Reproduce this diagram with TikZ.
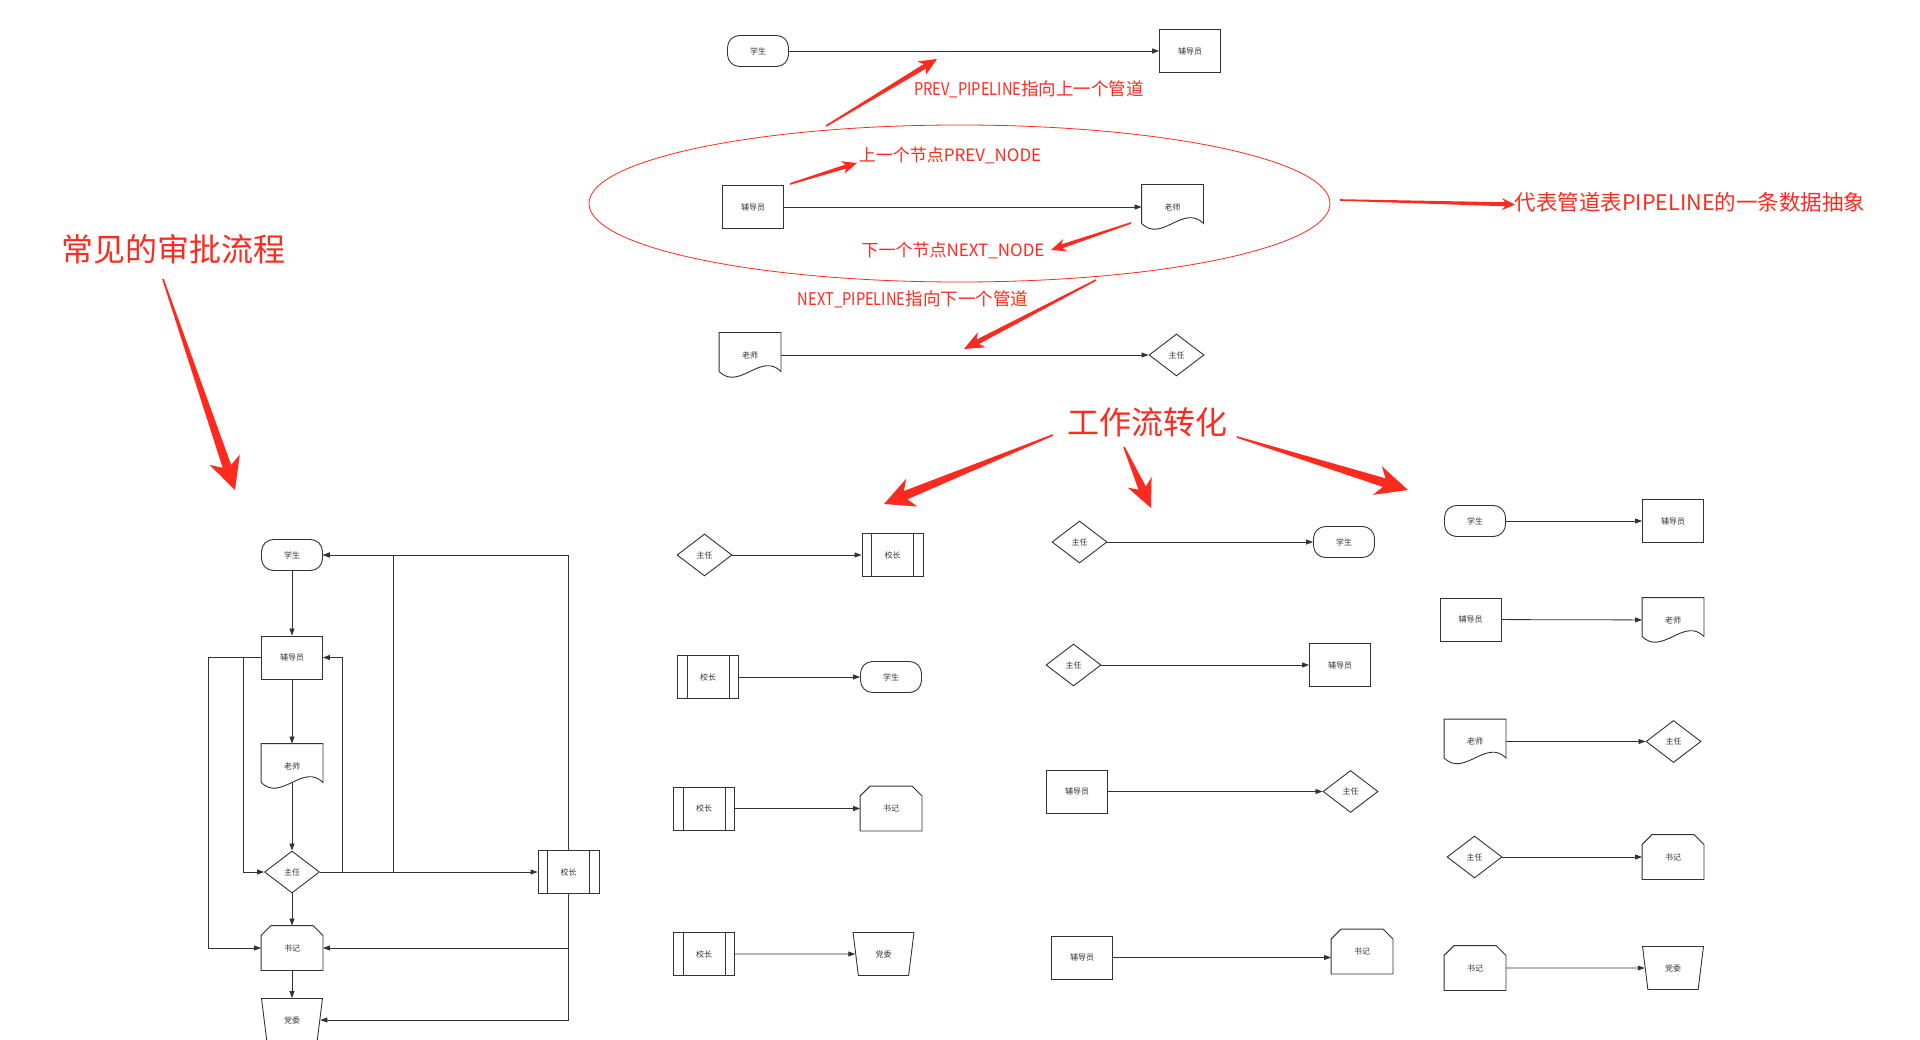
\documentclass[tikz,border=0pt]{standalone}
\usepackage{fontspec}
\setmainfont{Noto Sans CJK SC}
\newfontfamily\narrowlatin{Noto Sans CJK SC}[FakeStretch=0.84]
\usepackage{xcolor}
\usepackage{tikz}
\usetikzlibrary{arrows.meta,calc,shapes.geometric}
\definecolor{lineGray}{HTML}{333333}
\definecolor{noteRed}{HTML}{FF2A1F}

\newcommand{\redarrow}[5]{%
  \path ($(#2)!#3!(#1)$) coordinate (rbarb) ($(#2)!0.78*#3!(#1)$) coordinate (rneck);
  \fill[noteRed] ($(#1)!0.8pt!90:(#2)$) -- ($(rneck)!#5!90:(#2)$) -- ($(rbarb)!#4!90:(#2)$) -- (#2) -- ($(rbarb)!#4!-90:(#2)$) -- ($(rneck)!#5!-90:(#2)$) -- ($(#1)!0.8pt!-90:(#2)$) -- cycle;}

\begin{document}
\begin{tikzpicture}[x=1pt, y=-1pt,
  box/.style={draw=lineGray, line width=0.9pt, inner sep=0pt, text=lineGray, font=\fontsize{8}{9}\selectfont},
  term/.style={box, rounded corners=12pt, minimum width=61pt, minimum height=31pt},
  proc/.style={box, minimum width=61pt, minimum height=43pt},
  decide/.style={box, diamond, aspect=1.3, minimum width=55pt, minimum height=42pt},
  predef/.style={proc, append after command={\pgfextra{\draw[lineGray, line width=0.9pt] ([xshift=10pt]\tikzlastnode.north west) -- ([xshift=10pt]\tikzlastnode.south west) ([xshift=-10pt]\tikzlastnode.north east) -- ([xshift=-10pt]\tikzlastnode.south east);}}},
  docbox/.style={box, draw=none, minimum width=61pt, minimum height=44pt, append after command={\pgfextra{\draw[lineGray, line width=0.9pt] ([yshift=6pt]\tikzlastnode.south west) -- (\tikzlastnode.north west) -- (\tikzlastnode.north east) -- ([yshift=6pt]\tikzlastnode.south east) .. controls +(-20,-20) and +(20,20) .. ([yshift=6pt]\tikzlastnode.south west);}}},
  chamf/.style={box, draw=none, minimum width=61pt, minimum height=44pt, append after command={\pgfextra{\draw[lineGray, line width=0.9pt] (\tikzlastnode.south west) -- ([yshift=-10pt]\tikzlastnode.north west) -- ([xshift=10pt]\tikzlastnode.north west) -- ([xshift=-10pt]\tikzlastnode.north east) -- ([yshift=-10pt]\tikzlastnode.north east) -- (\tikzlastnode.south east) -- cycle;}}},
  manual/.style={box, trapezium, shape border rotate=180, trapezium stretches=true, trapezium left angle=77, trapezium right angle=77, minimum width=61pt, minimum height=43pt},
  conn/.style={draw=lineGray, line width=0.8pt, -{Triangle[length=7pt, width=5pt]}},
  note/.style={text=noteRed, inner sep=0pt}]
\fill[white] (0,0) rectangle (1920,1040);
\useasboundingbox (0,0) rectangle (1920,1040);

\node[term] (s0) at (758,51) {学生};
\node[proc] (f0) at (1190,51) {辅导员};
\node[proc] (f2) at (753,207) {辅导员};
\node[docbox] (t2) at (1172.5,207) {老师};
\node[docbox] (t3) at (750,355) {老师};
\node[decide] (z3) at (1176.5,355) {主任};
\draw[conn] (s0) -- (f0); \draw[conn] (f2) -- (t2); \draw[conn] (t3) -- (z3);
\node[draw=noteRed, line width=0.8pt, ellipse, inner sep=0pt, minimum width=741pt, minimum height=157pt] (pipe) at (959.5,203.5) {};

\node[note, font=\fontsize{17.5}{20}\selectfont] (prevpipe) at (1029,89) {{\narrowlatin PREV\_PIPELINE}指向上一个管道};
\node[note, font=\fontsize{17}{20}\selectfont] (prevnode) at (950,155.5) {上一个节点PREV\_NODE};
\node[note, font=\fontsize{17}{20}\selectfont] (nextnode) at (953,251) {下一个节点NEXT\_NODE};
\node[note, font=\fontsize{17.5}{20}\selectfont] (nextpipe) at (913,299) {{\narrowlatin NEXT\_PIPELINE}指向下一个管道};
\node[note, font=\fontsize{21.5}{24}\selectfont] (pipetext) at (1690,202) {代表管道表PIPELINE的一条数据抽象};
\node[note, font=\fontsize{32}{36}\selectfont] (common) at (173,249) {常见的审批流程};
\node[note, font=\fontsize{32}{36}\selectfont] (convert) at (1147,422) {工作流转化};

\coordinate (prevFrom) at (826,126); \coordinate (prevTo) at (937,59);
\coordinate (upFrom) at (790,184); \coordinate (upTo) at (857,163);
\coordinate (downFrom) at (1131,223); \coordinate (downTo) at (1051,250);
\coordinate (nextFrom) at (1096,280); \coordinate (nextTo) at (964,349);
\coordinate (pipeFrom) at (1340,200); \coordinate (pipeTo) at (1515,204.5);
\coordinate (commonFrom) at (163,279); \coordinate (commonTo) at (235,490);
\coordinate (leftFrom) at (1053,435); \coordinate (leftTo) at (884,504);
\coordinate (midFrom) at (1124,447); \coordinate (midTo) at (1151,508);
\coordinate (rightFrom) at (1237,437); \coordinate (rightTo) at (1408,490);
\redarrow{prevFrom}{prevTo}{18pt}{8pt}{2.5pt}
\redarrow{upFrom}{upTo}{15pt}{6.5pt}{2pt}
\redarrow{downFrom}{downTo}{15pt}{6.5pt}{2pt}
\redarrow{nextFrom}{nextTo}{20pt}{8.5pt}{2.5pt}
\redarrow{pipeFrom}{pipeTo}{13pt}{6pt}{2pt}
\redarrow{commonFrom}{commonTo}{32pt}{16pt}{4.5pt}
\redarrow{leftFrom}{leftTo}{30pt}{15pt}{4.5pt}
\redarrow{midFrom}{midTo}{28pt}{13pt}{4pt}
\redarrow{rightFrom}{rightTo}{32pt}{15pt}{4.5pt}

\node[term] (s1) at (292,555) {学生};
\node[proc] (f1) at (292,657.5) {辅导员};
\node[docbox] (t1) at (292,766) {老师};
\node[decide] (z1) at (292,872) {主任};
\node[chamf] (j1) at (292,948) {书记};
\node[manual] (d1) at (292,1020) {党委};
\node[predef] (x1) at (568.5,872) {校长};
\draw[conn] (s1) -- (f1); \draw[conn] (f1) -- (t1); \draw[conn] ([yshift=6pt]t1.south) -- (z1);
\draw[conn] (z1) -- (j1); \draw[conn] (j1) -- (d1); \draw[conn] (z1) -- (x1);
\draw[conn] (z1.east) -- ++(22,0) |- (f1.east);
\draw[conn] (z1.east) -- ++(73,0) |- (s1.east);
\draw[conn] (x1.north) |- (s1.east);
\draw[conn] (x1.south) |- (j1.east);
\draw[conn] (x1.south) |- (d1);
\draw[conn] (f1.west) -- ++(-18,0) |- (z1.west);
\draw[conn] (f1.west) -- ++(-53,0) |- (j1.west);

\node[decide] (z4) at (704.5,555) {主任};
\node[predef] (x4) at (892.5,555) {校长};
\node[predef] (x5) at (708,677) {校长};
\node[term] (s5) at (891,677) {学生};
\node[predef] (x6) at (704,808.5) {校长};
\node[chamf] (j6) at (891,808.5) {书记};
\node[predef] (x7) at (704,954) {校长};
\node[manual] (d7) at (883.5,954) {党委};
\draw[conn] (z4) -- (x4); \draw[conn] (x5) -- (s5); \draw[conn] (x6) -- (j6); \draw[conn] (x7) -- (d7);

\node[decide] (z8) at (1079.5,542) {主任};
\node[term] (s8) at (1344,542) {学生};
\node[decide] (z9) at (1073.5,665) {主任};
\node[proc] (f9) at (1340,665) {辅导员};
\node[proc] (f10) at (1077,791.5) {辅导员};
\node[decide] (z10) at (1350.5,791.5) {主任};
\node[proc] (f11) at (1082,957.5) {辅导员};
\node[chamf] (j11) at (1362,951.5) {书记};
\draw[conn] (z8) -- (s8); \draw[conn] (z9) -- (f9); \draw[conn] (f10) -- (z10); \draw[conn] (f11.east) -- (f11.east -| j11.west);

\node[term] (s12) at (1475,521) {学生};
\node[proc] (f12) at (1673,521) {辅导员};
\node[proc] (f13) at (1470.5,619.5) {辅导员};
\node[docbox] (t13) at (1673,620) {老师};
\node[docbox] (t14) at (1475,741.5) {老师};
\node[decide] (z14) at (1673.5,741.5) {主任};
\node[decide] (z15) at (1474.5,857) {主任};
\node[chamf] (j15) at (1673,857) {书记};
\node[chamf] (j16) at (1475,968) {书记};
\node[manual] (d16) at (1673,968) {党委};
\draw[conn] (s12) -- (f12); \draw[conn] (f13) -- (t13); \draw[conn] (t14) -- (z14);
\draw[conn] (z15) -- (j15); \draw[conn] (j16) -- (d16);
\end{tikzpicture}
\end{document}
